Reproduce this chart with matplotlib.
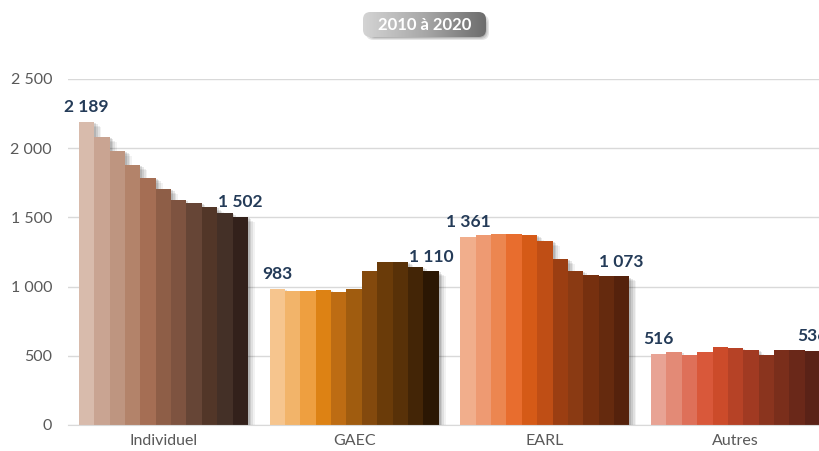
import matplotlib
matplotlib.use('Agg')
import matplotlib.pyplot as plt
import matplotlib.patheffects as pe
from matplotlib.patches import FancyBboxPatch
from matplotlib.colors import LinearSegmentedColormap
import numpy as np

plt.rcParams['font.family'] = ['Lato', 'DejaVu Sans']

categories = ['Individuel', 'GAEC', 'EARL', 'Autres']
years = list(range(2010, 2021))
individuel = [2189, 2079, 1982, 1879, 1787, 1705, 1623, 1604, 1573, 1532, 1502]
gaec = [983, 968, 968, 975, 962, 985, 1112, 1180, 1180, 1142, 1110]
earl = [1361, 1370, 1377, 1377, 1375, 1330, 1200, 1113, 1085, 1078, 1073]
autres = [516, 525, 505, 525, 562, 555, 540, 505, 540, 545, 536]
series = [individuel, gaec, earl, autres]
title_text = '2010 à 2020'
yticks = [0, 500, 1000, 1500, 2000, 2500]

colors_individuel = ['#D8BBAC', '#C9A492', '#BE9580', '#B3836A', '#A56E54', '#8E5E47',
                     '#7E5340', '#664536', '#523628', '#443027', '#33211B']
colors_gaec = ['#F6C58E', '#F2B46A', '#EE9F40', '#DD8214', '#BD6C13', '#A05C0F',
               '#83490D', '#6A3B09', '#583108', '#432506', '#2B1703']
colors_earl = ['#F1AE8C', '#EE9A72', '#EC8650', '#E86D2E', '#D55A17', '#BF4E15',
               '#9B3E12', '#8A3A13', '#76300F', '#652A0E', '#55220C']
colors_autres = ['#E8A394', '#E38A76', '#DE7059', '#D9583A', '#CC4B2A', '#B64226',
                 '#A13A22', '#8A341E', '#7A2E1B', '#6A2819', '#5A2217']
palettes = [colors_individuel, colors_gaec, colors_earl, colors_autres]

def fmt(v):
    return f'{v:,}'.replace(',', ' ')

W, H = 820, 451
fig = plt.figure(figsize=(W / 100, H / 100), dpi=100)
left_px, right_px, bot_px, top_px = 68, 831, 425, 79
ax = fig.add_axes([left_px / W, (H - bot_px) / H, (right_px - left_px) / W, (bot_px - top_px) / H])

n = len(years)
group_frac = 0.886
w = group_frac / n

shadow = [pe.SimplePatchShadow(offset=(5, -3.5), shadow_rgbFace='k', alpha=0.05),
          pe.SimplePatchShadow(offset=(3.8, -2.6), shadow_rgbFace='k', alpha=0.07),
          pe.SimplePatchShadow(offset=(2.6, -1.6), shadow_rgbFace='k', alpha=0.09),
          pe.SimplePatchShadow(offset=(1.4, -0.8), shadow_rgbFace='k', alpha=0.11),
          pe.Normal()]

label_color = '#243B58'
for g, (vals, cols) in enumerate(zip(series, palettes)):
    xs = g + (np.arange(n) - (n - 1) / 2) * w
    bars = ax.bar(xs, vals, width=w, color=cols, zorder=3, linewidth=0)
    for b in bars:
        b.set_path_effects(shadow)
    for j in (0, n - 1):
        ax.annotate(fmt(vals[j]), (xs[j], vals[j]), xytext=(0, 7), textcoords='offset points',
                    ha='center', va='baseline', fontsize=12.5, fontweight='bold',
                    color=label_color, zorder=5)

ax.set_xlim(-0.5, len(categories) - 0.5)
ax.set_ylim(0, 2500)
ax.set_xticks(range(len(categories)))
ax.set_xticklabels(categories)
ax.set_yticks(yticks)
ax.set_yticklabels([fmt(t) for t in yticks])
ax.tick_params(axis='both', length=0, colors='#595959', labelsize=11.5)
ax.tick_params(axis='y', pad=11.5)
ax.tick_params(axis='x', pad=6.5)
ax.grid(axis='y', color='#D9D9D9', linewidth=1, zorder=0)
ax.set_axisbelow(True)
for s in ['top', 'right', 'left']:
    ax.spines[s].set_visible(False)
ax.spines['bottom'].set_color('#D9D9D9')
ax.spines['bottom'].set_zorder(4)

# title box with gradient
bx, by, bw, bh = 363, 12, 123, 25
sh_ax = fig.add_axes([(bx + 3) / W, (H - by - bh - 3) / H, bw / W, bh / H])
sh_ax.set_axis_off()
sh_ax.set_xlim(0, 1); sh_ax.set_ylim(0, 1)
for k, a in enumerate([0.10, 0.10, 0.12]):
    sh_ax.add_patch(FancyBboxPatch((0.0 + 0.01 * k, 0.0 + 0.04 * k), 1 - 0.02 * k, 1 - 0.08 * k,
                                   boxstyle='round,pad=0,rounding_size=0.06',
                                   mutation_aspect=bw / bh, facecolor='k', alpha=a,
                                   edgecolor='none', transform=sh_ax.transAxes))
tax = fig.add_axes([bx / W, (H - by - bh) / H, bw / W, bh / H])
tax.set_axis_off()
grad = np.linspace(0, 1, 256).reshape(1, -1)
cmap = LinearSegmentedColormap.from_list('g', ['#D4D4D4', '#A8A8A8', '#6C6C6C'])
im = tax.imshow(grad, aspect='auto', cmap=cmap, extent=(0, 1, 0, 1))
clip = FancyBboxPatch((0, 0), 1, 1, boxstyle='round,pad=0,rounding_size=0.06',
                      mutation_aspect=bw / bh, transform=tax.transAxes,
                      facecolor='none', edgecolor='none')
tax.add_patch(clip)
im.set_clip_path(clip)
tax.set_xlim(0, 1); tax.set_ylim(0, 1)
tax.text(0.5, 0.47, title_text, ha='center', va='center', color='white',
         fontsize=12, fontweight='bold', transform=tax.transAxes)

fig.savefig('out.png', dpi=100)
